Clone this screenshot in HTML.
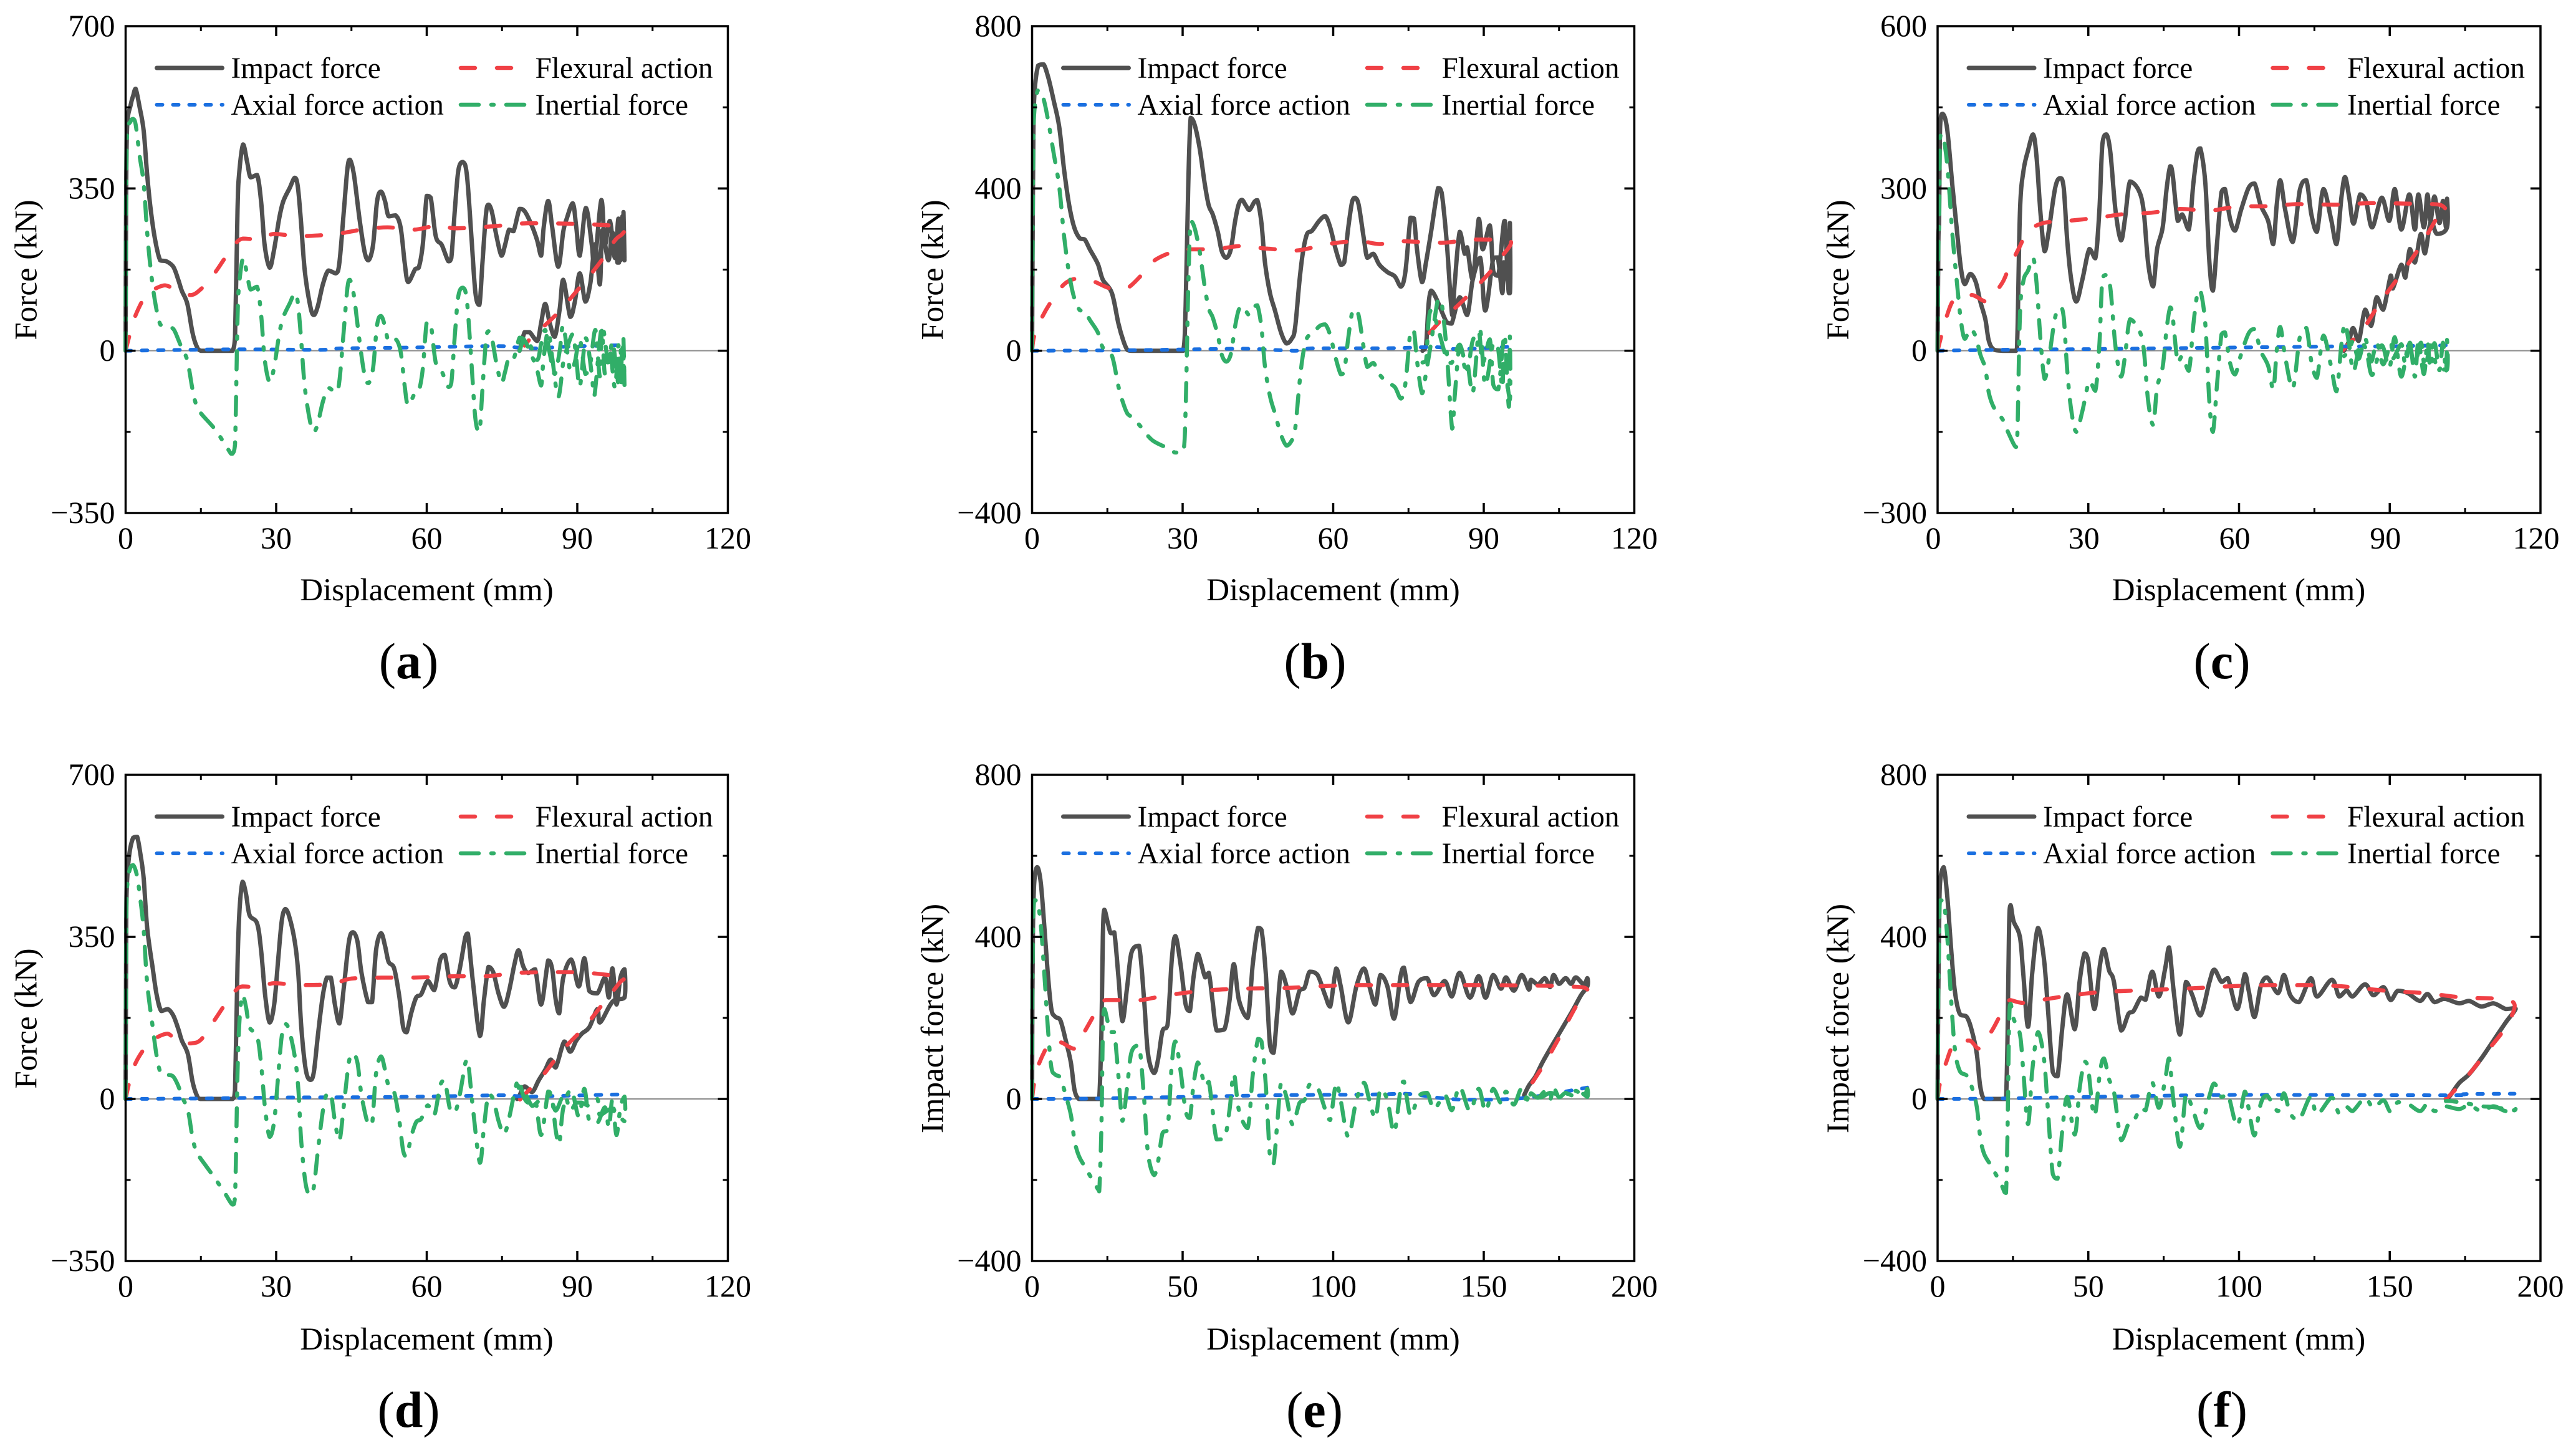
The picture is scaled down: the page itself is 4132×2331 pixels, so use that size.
<!DOCTYPE html>
<html lang="en">
<head>
<meta charset="utf-8">
<title>Force-displacement curves</title>
<style>
html,body{margin:0;padding:0;background:#fff;}
svg{display:block;}
text{font-family:"Liberation Serif","Times New Roman",serif;fill:#000;}
.tick{font-size:50px;}
.title{font-size:51px;}
.leg{font-size:47.3px;}
.cap{font-size:82px;}
.cap tspan{font-weight:bold;}
.k{stroke:#505050;stroke-width:7;stroke-linecap:round;}
.r{stroke:#f04045;stroke-width:6.5;stroke-linecap:round;stroke-dasharray:23 35;}
.bl{stroke:#1a6fe0;stroke-width:6;stroke-linecap:round;stroke-dasharray:9 17;}
.g{stroke:#31ae68;stroke-width:6.5;stroke-linecap:round;stroke-dasharray:29 20 4 20;}
</style>
</head>
<body>
<svg xmlns="http://www.w3.org/2000/svg" width="4132" height="2331" viewBox="0 0 4132 2331">
<rect width="4132" height="2331" fill="#fff"/>

<g id="panel-a" transform="translate(201.5,42)">
  <g class="marks"></g>
  <rect x="0" y="0" width="966" height="781" fill="none" stroke="#000" stroke-width="3.5"/>
  <g class="ticks"></g>
  <text class="title" x="483" y="921" text-anchor="middle">Displacement (mm)</text>
  <text class="title" transform="translate(-143,391) rotate(-90)" text-anchor="middle">Force (kN)</text>
  <g>
    <line class="k" x1="50" x2="155" y1="67" y2="67"/>
    <text class="leg" x="169" y="83">Impact force</text>
    <line class="r" x1="537.5" x2="620" y1="67" y2="67"/>
    <text class="leg" x="657" y="83">Flexural action</text>
    <line class="bl" x1="50" x2="155.5" y1="126" y2="126"/>
    <text class="leg" x="169" y="142">Axial force action</text>
    <line class="g" x1="537.5" x2="639.5" y1="126" y2="126"/>
    <text class="leg" x="657" y="142">Inertial force</text>
  </g>
  <text class="cap" x="454" y="1046" text-anchor="middle">(<tspan>a</tspan>)</text>
</g>

<g id="panel-b" transform="translate(1655.5,42)">
  <g class="marks"></g>
  <rect x="0" y="0" width="966" height="781" fill="none" stroke="#000" stroke-width="3.5"/>
  <g class="ticks"></g>
  <text class="title" x="483" y="921" text-anchor="middle">Displacement (mm)</text>
  <text class="title" transform="translate(-143,391) rotate(-90)" text-anchor="middle">Force (kN)</text>
  <g>
    <line class="k" x1="50" x2="155" y1="67" y2="67"/>
    <text class="leg" x="169" y="83">Impact force</text>
    <line class="r" x1="537.5" x2="620" y1="67" y2="67"/>
    <text class="leg" x="657" y="83">Flexural action</text>
    <line class="bl" x1="50" x2="155.5" y1="126" y2="126"/>
    <text class="leg" x="169" y="142">Axial force action</text>
    <line class="g" x1="537.5" x2="639.5" y1="126" y2="126"/>
    <text class="leg" x="657" y="142">Inertial force</text>
  </g>
  <text class="cap" x="454" y="1046" text-anchor="middle">(<tspan>b</tspan>)</text>
</g>

<g id="panel-c" transform="translate(3108,42)">
  <g class="marks"></g>
  <rect x="0" y="0" width="967" height="781" fill="none" stroke="#000" stroke-width="3.5"/>
  <g class="ticks"></g>
  <text class="title" x="483" y="921" text-anchor="middle">Displacement (mm)</text>
  <text class="title" transform="translate(-143,391) rotate(-90)" text-anchor="middle">Force (kN)</text>
  <g>
    <line class="k" x1="50" x2="155" y1="67" y2="67"/>
    <text class="leg" x="169" y="83">Impact force</text>
    <line class="r" x1="537.5" x2="620" y1="67" y2="67"/>
    <text class="leg" x="657" y="83">Flexural action</text>
    <line class="bl" x1="50" x2="155.5" y1="126" y2="126"/>
    <text class="leg" x="169" y="142">Axial force action</text>
    <line class="g" x1="537.5" x2="639.5" y1="126" y2="126"/>
    <text class="leg" x="657" y="142">Inertial force</text>
  </g>
  <text class="cap" x="456" y="1046" text-anchor="middle">(<tspan>c</tspan>)</text>
</g>

<g id="panel-d" transform="translate(201.5,1243)">
  <g class="marks"></g>
  <rect x="0" y="0" width="966" height="780" fill="none" stroke="#000" stroke-width="3.5"/>
  <g class="ticks"></g>
  <text class="title" x="483" y="922" text-anchor="middle">Displacement (mm)</text>
  <text class="title" transform="translate(-143,391) rotate(-90)" text-anchor="middle">Force (kN)</text>
  <g>
    <line class="k" x1="50" x2="155" y1="67" y2="67"/>
    <text class="leg" x="169" y="83">Impact force</text>
    <line class="r" x1="537.5" x2="620" y1="67" y2="67"/>
    <text class="leg" x="657" y="83">Flexural action</text>
    <line class="bl" x1="50" x2="155.5" y1="126" y2="126"/>
    <text class="leg" x="169" y="142">Axial force action</text>
    <line class="g" x1="537.5" x2="639.5" y1="126" y2="126"/>
    <text class="leg" x="657" y="142">Inertial force</text>
  </g>
  <text class="cap" x="454" y="1046" text-anchor="middle">(<tspan>d</tspan>)</text>
</g>

<g id="panel-e" transform="translate(1655.5,1243)">
  <g class="marks"></g>
  <rect x="0" y="0" width="966" height="780" fill="none" stroke="#000" stroke-width="3.5"/>
  <g class="ticks"></g>
  <text class="title" x="483" y="922" text-anchor="middle">Displacement (mm)</text>
  <text class="title" transform="translate(-143,391) rotate(-90)" text-anchor="middle">Impact force (kN)</text>
  <g>
    <line class="k" x1="50" x2="155" y1="67" y2="67"/>
    <text class="leg" x="169" y="83">Impact force</text>
    <line class="r" x1="537.5" x2="620" y1="67" y2="67"/>
    <text class="leg" x="657" y="83">Flexural action</text>
    <line class="bl" x1="50" x2="155.5" y1="126" y2="126"/>
    <text class="leg" x="169" y="142">Axial force action</text>
    <line class="g" x1="537.5" x2="639.5" y1="126" y2="126"/>
    <text class="leg" x="657" y="142">Inertial force</text>
  </g>
  <text class="cap" x="453" y="1046" text-anchor="middle">(<tspan>e</tspan>)</text>
</g>

<g id="panel-f" transform="translate(3108,1243)">
  <g class="marks"></g>
  <rect x="0" y="0" width="967" height="780" fill="none" stroke="#000" stroke-width="3.5"/>
  <g class="ticks"></g>
  <text class="title" x="483" y="922" text-anchor="middle">Displacement (mm)</text>
  <text class="title" transform="translate(-143,391) rotate(-90)" text-anchor="middle">Impact force (kN)</text>
  <g>
    <line class="k" x1="50" x2="155" y1="67" y2="67"/>
    <text class="leg" x="169" y="83">Impact force</text>
    <line class="r" x1="537.5" x2="620" y1="67" y2="67"/>
    <text class="leg" x="657" y="83">Flexural action</text>
    <line class="bl" x1="50" x2="155.5" y1="126" y2="126"/>
    <text class="leg" x="169" y="142">Axial force action</text>
    <line class="g" x1="537.5" x2="639.5" y1="126" y2="126"/>
    <text class="leg" x="657" y="142">Inertial force</text>
  </g>
  <text class="cap" x="456" y="1046" text-anchor="middle">(<tspan>f</tspan>)</text>
</g>
</svg>

<script>
// Tick values
const xTicks120 = [0, 30, 60, 90, 120];
const xMinor120 = [15, 45, 75, 105];
const xTicks200 = [0, 50, 100, 150, 200];
const xMinor200 = [25, 75, 125, 175];
const yTicks700 = [-350, 0, 350, 700];
const yMinor700 = [-175, 175, 525];
const yTicks800 = [-400, 0, 400, 800];
const yMinor800 = [-200, 200, 600];
const yTicks600 = [-300, 0, 300, 600];
const yMinor600 = [-150, 150, 450];

// Panel a
const dispA = [0,.1,.3,1,1.5,2,2.8,3.6,4.3,5,5.9,6.9,8.1,9.5,10.5,11.2,12.3,13.3,14.1,15,17.7,19.8,21,21.3,21.8,22.3,22.6,23.4,24.2,24.9,26.2,27,27.7,28.7,29.6,30.6,31.4,32.7,33.7,34.3,34.9,35.7,36.8,37.5,38.3,39.3,40.4,41.9,42.6,43.5,44.2,44.7,45.5,46.6,47.6,48.4,49.3,50.1,50.9,51.7,52.4,53.8,54.8,55.6,56.3,57.7,58.4,59.2,60,60.8,61.8,63,64.3,64.9,65.6,66.3,67.2,68,68.9,69.7,70.5,71.1,71.8,72.3,73,73.9,74.9,75.6,76.4,77.3,78.5,79.5,80.9,82,82.8,83.3,84.2,85,86.2,87.2,87.9,89.1,89.8,90.5,91.7,92.9,93.4,94.8,95.5,96.5,97.5,98.2,98.6,99,99.4,99.2,99.4,99.1,98.9,98.6,98.3,98,97,96.2,95,94.5,93.6,92.6,91.6,90.5,89.5,88.6,87.2,86.5,85.5,84.5,83.6,82.8,82,80.5,79.5,78.5];
const impactA = [0,320,483,530,550,565,525,474,379,304,238,195,193,181,153,129,101,40,11,0,0,0,0,0,30,304,379,445,408,374,379,322,228,179,219,285,322,351,373,355,285,172,96,77,96,143,173,167,190,304,393,412,379,285,214,195,228,322,343,322,290,292,266,190,148,176,179,228,334,330,247,228,193,200,304,389,407,379,247,125,99,190,294,315,299,247,205,228,261,258,306,301,271,238,205,266,323,266,181,257,285,318,266,205,308,228,181,325,228,280,200,285,195,290,200,299,195,280,200,275,190,190,255,195,260,143,230,145,106,167,105,73,153,90,30,60,101,60,21,40,40,0];
const inertialA = [0,315,465,495,500,488,420,360,255,175,104,57,52,47,24,5,-21,-82,-118,-135,-168,-202,-222,-222,-202,68,140,200,165,132,138,78,-18,-68,-35,35,72,102,124,105,35,-78,-155,-175,-157,-110,-80,-90,-65,48,136,153,118,22,-52,-70,-38,55,75,52,20,25,-2,-76,-118,-90,-88,-40,62,58,-26,-45,-78,-70,34,118,136,108,-24,-147,-175,-82,22,42,26,-28,-70,-46,-14,-18,28,22,-10,-42,-75,-15,42,-15,-100,-25,3,36,-18,-78,27,-52,-98,45,-50,0,-80,12,-75,15,-72,25,-75,8,-68,5,-75,-60,20,-25,55,-55,45,-27,-50,25,-25,-45,55,0,-50,-5,45,15,-20,15,28,0];
const flexDispA = [0,.7,2,4.3,5.9,7.9,10.5,13,15.1,17.7,19.8,21.8,23.4,26.5,29.6,34.7,41.9,47,52.2,57.4,62.5,65.6,72.8,80,88.3,95.5,99.4,99,97.5,94.5,90.3,85.7,81,79.5];
const flexuralA = [0,30,77,125,134,141,129,120,134,167,200,230,242,240,252,247,252,261,266,261,271,264,268,275,274,271,266,252,238,190,134,77,30,11];
const axialDispA = [0,21.3,38.8,42.9,57.4,73.9,78,82,88.1,99.4];
const axialA = [0,3,2,5,7,10,7,5,9,12];

// Panel b
const dispB = [0,.1,.2,.4,1.2,2.3,3.3,4.3,5.4,6.4,7.4,8.4,9.5,10.5,11.5,13.1,14.1,15.9,17.2,18.2,19,19.8,21.3,23.9,27,28.5,30.1,30.6,31.1,31.6,32.4,33.4,34.4,35.2,36,37,37.8,38.7,39.6,40.4,41.1,41.8,42.6,43.3,44.3,44.9,45.7,46.4,47.4,48.4,49.6,50.7,51.7,52.4,53.3,54,54.8,55.8,57.2,58.4,59.4,60.5,61.5,62.2,63,63.8,64.4,65.1,66.1,66.8,68,69.2,70.8,72.3,73.5,74.4,75.4,76.1,76.7,77.7,78.5,79.5,80.9,81.6,82.6,83.7,84.2,85.2,86.2,86.7,87.8,89,89.8,91.2,91.9,92.9,93.8,94.2,95,95.2,95.2,94,93.7,92.8,91.9,90.3,89.3,87.8,86.7,85.2,83.6,82.6,79.5,78.5,77.8];
const impactB = [0,250,433,617,703,706,670,617,552,444,358,304,277,274,250,214,175,142,67,24,2,0,0,0,0,0,0,110,401,574,557,498,412,358,336,293,245,229,250,315,358,372,358,347,367,371,315,218,142,99,45,18,29,56,175,245,288,296,320,332,304,250,212,218,304,369,377,358,277,229,239,212,194,183,158,196,328,326,250,169,218,293,401,390,272,88,164,293,239,255,175,325,250,309,196,185,293,320,142,315,142,218,142,230,229,99,229,175,88,132,67,70,148,13,0];
const inertialB = [0,240,420,580,643,620,560,487,405,280,188,130,100,98,76,45,8,-12,-88,-131,-155,-163,-182,-220,-240,-251,-250,-142,148,320,302,244,158,104,82,38,-10,-27,-8,56,98,110,98,88,108,112,58,-38,-112,-155,-207,-234,-222,-195,-78,-8,32,40,60,65,38,-18,-58,-52,32,96,102,85,6,-40,-30,-58,-78,-90,-118,-80,50,48,-24,-105,-55,20,128,118,2,-192,-115,15,-40,-25,-105,45,-30,28,-84,-95,12,40,-138,35,-120,-25,-92,10,20,-85,50,25,-45,15,-30,-20,100,-25,-29];
const flexDispB = [0,.4,1.8,3.8,6.4,9,12,15.7,18.7,21.3,23.9,27,30.6,36.3,41.4,46.6,52.7,58.9,65,69.2,73.3,81.6,87.8,95.2,93.4,91.4,87.8,84.7,82.1,78.5,77.8];
const flexuralB = [0,35,78,121,164,178,172,153,153,180,218,239,250,250,258,252,247,263,270,263,270,266,274,272,229,196,148,110,83,35,29];
const axialDispB = [0,18,30,42,52.5,56,70,80,85,95];
const axialB = [0,1,3,5,0,6,6,9,4,10];

// Panel c
const dispC = [0,.15,.3,.5,1,1.9,2.9,3.7,4.6,5.4,6.5,7.6,8.5,9.5,10.2,11.2,13,14.1,15.6,15.9,16.4,17.1,18,19,19.7,20.5,21.3,22.1,23.4,24.4,25.1,25.8,26.6,27.6,28.8,30.2,31.4,32.2,32.8,33.6,34.4,35.4,36.5,37.3,38.3,40,41,41.9,42.9,43.7,44.8,45.6,46.3,46.8,47.8,48.7,50,50.9,51.7,52.3,53.3,54.1,54.8,55.6,56.5,57.2,58.2,59.2,60.4,61.9,63.1,64.3,65.8,66.8,67.5,68.2,69.2,70.7,72.1,73.4,74.4,75.5,76.8,78.3,79.4,80.4,81.1,81.9,82.8,84.1,85.3,86.5,88.4,89.9,91,92.3,93.9,95,95.7,96.8,97.5,98.1,98.9,99.9,100.6,101.2,101.4,101.4,99.4,98.2,97,96.2,95,94,93.1,92.3,90.6,90.2,88.7,87.4,86.3,85.1,83.8,82.7,81.9,80.9];
const impactC = [0,200,244,414,438,410,309,236,155,123,142,127,91,58,18,2,0,0,0,34,260,333,370,400,358,252,184,220,301,319,301,204,131,91,131,188,171,260,382,400,366,260,204,244,313,297,260,163,119,188,228,301,341,325,240,252,224,309,366,374,309,163,111,196,293,299,244,222,260,301,309,269,240,197,269,315,260,201,297,315,252,220,299,244,197,285,321,285,235,289,275,228,283,240,299,224,289,224,289,228,289,240,285,236,277,228,281,228,216,240,180,216,163,188,135,159,115,139,76,99,46,76,18,42,18,0];
const inertialC = [0,190,230,395,400,345,220,140,58,22,40,26,-7,-33,-78,-105,-128,-152,-178,-150,70,130,148,172,125,18,-52,-18,62,80,62,-36,-110,-150,-112,-56,-74,12,134,140,115,8,-48,-10,58,40,5,-92,-137,-68,-30,42,80,62,-22,-10,-37,48,105,112,48,-96,-150,-65,30,34,-22,-44,-7,32,40,0,-28,-72,0,44,-12,-70,25,42,-20,-50,28,-28,-75,14,50,12,-38,15,2,-45,10,-32,25,-48,15,-48,17,-43,17,-32,14,-36,15,-40,20,-35,-30,10,-30,15,-25,15,-25,12,-15,15,-25,15,-20,22,-15,18,0,-10];
const flexDispC = [0,.7,1.9,3.4,6.8,9.7,12.7,14.1,16.1,18,21,25.8,32,36.5,42.4,48.2,54.1,60,65.8,71.6,79.4,86.3,93,99.9,101.4,99.9,96,92,88.2,84.3,81.9,79.4];
const flexuralC = [0,26,66,95,103,91,123,151,188,220,236,240,246,252,255,262,259,267,267,271,270,273,272,270,252,252,192,139,91,34,14,-15];
const axialDispC = [0,15,30,50,70,80,88,101.4];
const axialC = [0,2,3,5,7,8,8,10];

// Panel d
const dispD = [0,.1,.2,.7,1.5,2.3,3,3.6,4.3,5.4,6.2,7.1,8.4,9.5,10.5,11.2,12.4,13.3,14.1,14.9,17.7,19.8,21.3,21.8,22.3,22.7,23.3,24,24.7,26.2,27,27.8,28.7,29.6,30.4,31.1,31.8,32.6,33.7,34.4,35,35.9,36.8,37.5,38.3,39.3,40.1,40.9,41.7,42.6,43.5,44.5,45.3,46.2,47,48.3,49.1,49.9,50.9,51.7,52.4,53.5,54.5,55.3,56,56.9,57.9,58.9,60.2,61.5,62.7,63.6,64.6,65.6,66.6,67.7,68.2,69.2,70.6,71.4,72.3,73.3,74.3,75.4,76.4,77.5,78.3,79.2,80.2,81.6,82.8,84.2,85,85.7,86.4,87.2,88.8,90.3,91.4,92.4,94,95.5,96.3,97,97.8,98.6,99.4,99.4,97.5,96.5,94.5,94,92.4,90.9,89.8,88.6,87.4,85.7,84.7,83.6,82.3,81,79.5,78.5,78];
const impactD = [0,300,447,525,564,566,525,476,369,282,224,190,194,180,151,126,97,39,10,0,0,0,0,19,292,408,469,442,397,379,321,224,165,204,301,384,410,394,340,272,155,63,41,58,136,224,262,262,204,163,243,340,360,340,272,209,209,321,358,330,296,282,224,155,144,185,219,226,255,235,301,311,253,241,282,350,357,253,136,214,285,272,228,199,233,292,321,287,272,280,204,299,280,214,185,262,301,243,304,233,228,262,219,282,204,262,280,219,214,202,165,194,155,141,126,102,124,68,85,63,40,15,27,8,0];
const inertialD = [0,295,435,490,505,480,425,365,250,155,92,53,52,48,28,5,-24,-82,-115,-128,-170,-204,-228,-212,55,170,225,198,155,135,75,-22,-82,-48,50,135,162,148,92,24,-93,-185,-207,-190,-113,-26,12,12,-48,-90,-12,80,98,78,8,-55,-55,55,92,62,28,15,-44,-112,-124,-82,-50,-43,-14,-35,30,40,-20,-30,10,78,85,-20,-138,-60,10,-2,-47,-76,-42,15,42,8,-8,0,-78,16,-2,-68,-98,-20,20,-38,22,-48,-52,-18,-62,0,-78,-18,5,-48,-25,-22,-35,0,-15,-8,-8,-25,10,-25,10,0,-5,-15,15,20,38];
const flexDispD = [0,.7,2,4.3,5.9,8.4,10.5,13,15,17.7,19.8,21.8,23.3,26.5,29.6,34.7,40.9,45,51,57,65.6,71.8,78,86.2,92.4,99.4,98.6,95,91.4,87.2,83,80,77.4];
const flexuralD = [0,34,78,117,131,141,121,120,128,170,204,233,243,241,250,246,248,260,262,262,265,265,272,274,272,262,253,204,155,107,49,15,-15];
const axialDispD = [0,15,30,50,65,75,80,88,99.4];
const axialD = [0,1,3,4,6,8,5,7,10];

// Panel e
const dispE = [0,.1,.3,.7,1.7,2.9,4.1,5.2,6.4,7.7,9.4,11.2,12.9,14.1,15.5,17.5,21.8,22.3,23,23.5,24,25.2,26.1,27.3,28.7,30,31.6,33,35.5,37.2,38.5,40.5,41.9,43.3,45,46.4,47.6,49.3,51,52.4,53.6,55,56.2,57.5,58.7,59.9,61.3,63.9,65.6,67,68.7,71.6,73.3,75,76.2,77.6,79,80.2,81.4,82.7,84.5,86.5,88.8,90.5,92.2,94.8,97.3,99,101,102.5,105,107.7,110.2,112,114,115.7,118,120.2,122.3,123.5,125.7,128.3,131.2,133.5,137,139.4,142,145.4,148.3,150.6,153.1,155.7,157.4,160,162.6,165,165.7,168,170.3,172,173.2,175,177.2,179,180.6,183.2,184.4,184.4,182.3,179.8,177.2,174.6,171.9,169.4,167.2,165,163.4];
const impactE = [0,250,422,533,572,533,422,311,222,203,194,144,89,22,0,0,0,0,156,400,467,433,409,411,300,192,278,361,378,244,111,64,100,167,183,344,402,333,233,217,300,358,333,300,311,244,169,172,244,333,244,200,333,422,417,311,133,114,211,314,278,211,267,275,314,306,256,228,322,278,189,278,322,278,233,306,278,198,300,324,239,289,298,256,291,253,311,250,303,250,306,272,300,267,306,270,294,283,298,276,306,284,298,284,300,283,298,278,256,222,189,156,122,89,56,33,9];
const inertialE = [0,245,405,490,490,430,305,180,78,60,52,8,-40,-103,-140,-167,-222,-228,-75,165,222,188,165,165,55,-54,32,115,132,0,-135,-188,-152,-85,-75,85,142,70,-30,-47,35,90,65,32,42,-25,-100,-98,-26,62,-28,-72,60,148,142,36,-142,-160,-62,40,4,-63,-10,-2,36,28,-25,-52,40,-4,-93,-3,40,-3,-48,25,-3,-83,20,43,-42,6,15,-25,10,-28,30,-30,25,-30,25,-10,18,-14,26,-10,14,3,18,-2,28,4,15,5,20,5,25,5,15,8,15,12,15,5,3,2,0];
const flexDispE = [0,.7,2.4,6.4,9.8,14,17.5,21.8,24.4,33,36.4,45,57,69,84.5,94.8,108.5,122.2,136,150,163.4,177,184.4,180.6,175.4,170.3,166,163.4];
const flexuralE = [0,39,89,144,139,124,167,222,244,244,244,256,267,272,274,278,281,281,281,281,280,278,270,228,156,89,39,9];
const axialDispE = [0,20,50,80,112,124,136,146,163,184.4];
const axialE = [0,1,5,9,11,13,2,-2,2,28];

// Panel f
const dispF = [0,.2,.5,.8,2,3.2,4.4,5.7,7.3,9.7,11.4,13,14.1,15.4,17.9,21.1,22.2,22.7,23.2,23.7,24.2,25.2,27.3,28.4,30,31.4,33.3,35.3,36.6,38.2,39.8,41.4,43,45.5,47.1,48.7,49.9,52,53.9,55.2,56.9,58.5,60.9,63.4,65,67.4,69,71.2,73.4,75.5,76.8,78.3,80.4,82.4,84.5,87.2,90.2,91.8,94.2,96.3,99.4,101.9,103.2,105.1,107.2,109.3,112.9,114.9,117,119.9,123.8,125.9,130.8,133.2,135.7,137.7,141.8,144.6,147.9,150.3,152.7,156,160,162.5,164.9,168.2,173,176.3,180.4,184.4,188.5,191.4,191.4,188.5,184.4,180.4,176.3,173,169.8,168.6];
const impactF = [0,250,422,533,572,500,378,267,211,202,167,111,33,0,0,0,0,0,156,422,478,439,400,311,178,311,422,344,222,67,56,178,258,172,289,359,344,222,333,370,317,289,169,211,217,250,245,314,253,322,374,267,159,289,256,206,289,319,289,298,222,308,267,202,278,300,261,306,256,239,298,253,294,253,267,253,283,256,276,244,267,261,242,259,239,247,236,242,228,236,222,224,217,189,144,100,61,39,6,0];
const inertialF = [0,245,400,490,490,400,255,125,70,57,28,-20,-92,-135,-167,-211,-230,-232,-75,180,235,198,160,72,-62,70,165,98,-28,-185,-197,-75,5,-88,25,92,78,-42,68,100,48,18,-102,-60,-55,-22,-28,40,-22,48,100,-8,-118,12,-22,-72,8,38,5,12,-66,18,-24,-90,-12,8,-30,14,-36,-52,6,-38,3,-36,-20,-30,2,-22,-3,-32,-8,-12,-30,-12,-30,-18,-25,-15,-30,-18,-30,-20,-28,-25,-20,-18,-12,-8,-5,-5];
const flexDispF = [0,.8,2.8,5.7,10.6,13.8,17.9,21.1,23.9,28.4,36.6,44.7,54.4,64.2,74,87,96.7,109.7,122.7,134,148.7,161.6,174.7,186,191.4,188.5,182.8,176.3,171.4,168.6];
const flexuralF = [0,39,89,139,144,124,167,211,244,237,247,256,264,267,270,274,278,281,281,278,267,261,250,247,233,178,122,61,20,0];
const axialDispF = [0,20,50,100,170,175,191.4];
const axialF = [0,1,5,10,9,12,13];

const NS = 'http://www.w3.org/2000/svg';

function svgEl(parent, tag, attrs) {
  const el = document.createElementNS(NS, tag);
  for (const k in attrs) el.setAttribute(k, attrs[k]);
  parent.appendChild(el);
  return el;
}

function clamp(v, a, b) {
  return Math.max(Math.min(a, b), Math.min(Math.max(a, b), v));
}

function curvePath(xs, ys, sx, sy) {
  const n = Math.min(xs.length, ys.length);
  const pts = [];
  for (let i = 0; i < n; i++) pts.push([sx(xs[i]), sy(ys[i])]);
  let d = 'M' + pts[0][0].toFixed(1) + ' ' + pts[0][1].toFixed(1);
  for (let i = 0; i < n - 1; i++) {
    const p0 = pts[Math.max(i - 1, 0)], p1 = pts[i], p2 = pts[i + 1], p3 = pts[Math.min(i + 2, n - 1)];
    const c1x = p1[0] + (p2[0] - p0[0]) / 6, c1y = clamp(p1[1] + (p2[1] - p0[1]) / 6, p1[1], p2[1]);
    const c2x = p2[0] - (p3[0] - p1[0]) / 6, c2y = clamp(p2[1] - (p3[1] - p1[1]) / 6, p1[1], p2[1]);
    d += 'C' + c1x.toFixed(1) + ' ' + c1y.toFixed(1) + ' ' + c2x.toFixed(1) + ' ' + c2y.toFixed(1) + ' ' + p2[0].toFixed(1) + ' ' + p2[1].toFixed(1);
  }
  return d;
}

function tickText(v) {
  return v < 0 ? '\u2212' + Math.abs(v) : String(v);
}

function drawPanel(p) {
  const root = document.getElementById('panel-' + p.key);
  const marks = root.querySelector('.marks');
  const ticks = root.querySelector('.ticks');
  const xMax = p.xTicks[p.xTicks.length - 1], yMin = p.yTicks[0], yMax = p.yTicks[p.yTicks.length - 1];
  const sx = function (v) { return v / xMax * p.w; };
  const sy = function (v) { return (yMax - v) / (yMax - yMin) * p.h; };

  const zero = svgEl(marks, 'line', { x1: 0, x2: p.w, y1: sy(0), y2: sy(0), stroke: '#8c8c8c', 'stroke-width': 2 });
  
  

  const series = [
    { n: 'impact-force-line', xs: p.disp, ys: p.impact, c: 'k' },
    { n: 'flexural-action-line', xs: p.flexDisp, ys: p.flexural, c: 'r' },
    { n: 'axial-force-line', xs: p.axialDisp, ys: p.axial, c: 'bl' },
    { n: 'inertial-force-line', xs: p.disp, ys: p.inertial, c: 'g' }
  ];
  series.forEach(function (s) {
    const path = svgEl(marks, 'path', { d: curvePath(s.xs, s.ys, sx, sy), fill: 'none', class: s.c, 'stroke-linejoin': 'round' });
    
    
  });

  p.xTicks.forEach(function (v) {
    const x = sx(v);
    if (v !== 0 && v !== xMax) {
      const t1 = svgEl(ticks, 'line', { x1: x, x2: x, y1: p.h, y2: p.h - 16, stroke: '#000', 'stroke-width': 3.5 });
      
      
      const t2 = svgEl(ticks, 'line', { x1: x, x2: x, y1: 0, y2: 16, stroke: '#000', 'stroke-width': 3.5 });
      
      
    }
    const lab = svgEl(ticks, 'text', { class: 'tick', x: x + p.xShift, y: p.h + 57, 'text-anchor': 'middle' });
    lab.textContent = tickText(v);
    
    
  });
  p.xMinor.forEach(function (v) {
    const x = sx(v);
    const t1 = svgEl(ticks, 'line', { x1: x, x2: x, y1: p.h, y2: p.h - 8, stroke: '#000', 'stroke-width': 3 });
    
    
    const t2 = svgEl(ticks, 'line', { x1: x, x2: x, y1: 0, y2: 8, stroke: '#000', 'stroke-width': 3 });
    
    
  });
  p.yTicks.forEach(function (v) {
    const y = sy(v);
    if (v !== yMin && v !== yMax) {
      const t1 = svgEl(ticks, 'line', { x1: 0, x2: 16, y1: y, y2: y, stroke: '#000', 'stroke-width': 3.5 });
      
      
      const t2 = svgEl(ticks, 'line', { x1: p.w, x2: p.w - 16, y1: y, y2: y, stroke: '#000', 'stroke-width': 3.5 });
      
      
    }
    const lab = svgEl(ticks, 'text', { class: 'tick', x: -17, y: y + 16, 'text-anchor': 'end' });
    lab.textContent = tickText(v);
    
    
  });
  p.yMinor.forEach(function (v) {
    const y = sy(v);
    const t1 = svgEl(ticks, 'line', { x1: 0, x2: 8, y1: y, y2: y, stroke: '#000', 'stroke-width': 3 });
    
    
    const t2 = svgEl(ticks, 'line', { x1: p.w, x2: p.w - 8, y1: y, y2: y, stroke: '#000', 'stroke-width': 3 });
    
    
  });
}

drawPanel({ key: 'a', w: 966, h: 781, xShift: 0, xTicks: xTicks120, xMinor: xMinor120, yTicks: yTicks700, yMinor: yMinor700, disp: dispA, impact: impactA, inertial: inertialA, flexDisp: flexDispA, flexural: flexuralA, axialDisp: axialDispA, axial: axialA });
drawPanel({ key: 'b', w: 966, h: 781, xShift: 0, xTicks: xTicks120, xMinor: xMinor120, yTicks: yTicks800, yMinor: yMinor800, disp: dispB, impact: impactB, inertial: inertialB, flexDisp: flexDispB, flexural: flexuralB, axialDisp: axialDispB, axial: axialB });
drawPanel({ key: 'c', w: 967, h: 781, xShift: -7, xTicks: xTicks120, xMinor: xMinor120, yTicks: yTicks600, yMinor: yMinor600, disp: dispC, impact: impactC, inertial: inertialC, flexDisp: flexDispC, flexural: flexuralC, axialDisp: axialDispC, axial: axialC });
drawPanel({ key: 'd', w: 966, h: 780, xShift: 0, xTicks: xTicks120, xMinor: xMinor120, yTicks: yTicks700, yMinor: yMinor700, disp: dispD, impact: impactD, inertial: inertialD, flexDisp: flexDispD, flexural: flexuralD, axialDisp: axialDispD, axial: axialD });
drawPanel({ key: 'e', w: 966, h: 780, xShift: 0, xTicks: xTicks200, xMinor: xMinor200, yTicks: yTicks800, yMinor: yMinor800, disp: dispE, impact: impactE, inertial: inertialE, flexDisp: flexDispE, flexural: flexuralE, axialDisp: axialDispE, axial: axialE });
drawPanel({ key: 'f', w: 967, h: 780, xShift: 0, xTicks: xTicks200, xMinor: xMinor200, yTicks: yTicks800, yMinor: yMinor800, disp: dispF, impact: impactF, inertial: inertialF, flexDisp: flexDispF, flexural: flexuralF, axialDisp: axialDispF, axial: axialF });
</script>
</body>
</html>
